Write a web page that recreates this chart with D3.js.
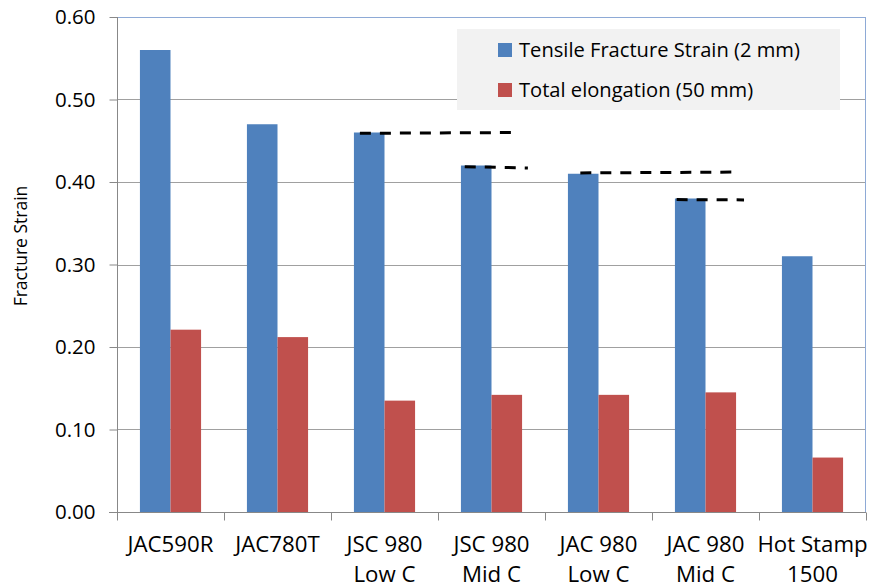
<!DOCTYPE html>
<html><head><meta charset="utf-8">
<script src="https://cdn.jsdelivr.net/npm/d3@7"></script>
<style>body{margin:0;background:#fff}svg{display:block}text{font-family:"Open Sans",Lato,sans-serif;fill:#000}</style>
</head><body><svg id="c" width="869" height="588"></svg>
<script>
const categories = [["JAC590R"],["JAC780T"],["JSC 980","Low C"],["JSC 980","Mid C"],["JAC 980","Low C"],["JAC 980","Mid C"],["Hot Stamp","1500"]];
const seriesNames = ["Tensile Fracture Strain (2 mm)","Total elongation (50 mm)"];
const tensile = [0.56,0.47,0.46,0.42,0.41,0.38,0.31];
const elongation = [0.221,0.212,0.135,0.142,0.142,0.145,0.066];
const yTicks = [0,0.1,0.2,0.3,0.4,0.5,0.6];
// annotation dashed lines: [start position (category units), end position, start value, end value]
const dashLines = [[2.27,3.73,0.459,0.460],[3.25,3.84,0.4186,0.417],[4.33,5.78,0.411,0.412],[5.23,5.86,0.3787,0.3783]];
const colors = ["#4f81bd","#c0504d"];

const W=869,H=588,m={l:117,t:17,r:3,b:76};
const svg=d3.select("#c");
const keys=categories.map((c,i)=>i);
const x=d3.scaleBand().domain(keys).range([m.l,W-m.r]).padding(0);
const bw=x.bandwidth(), barW=bw/3.5, gap=1.5*barW;
const x1=d3.scaleBand().domain([0,1]).range([gap/2,bw-gap/2]).padding(0);
const y=d3.scaleLinear().domain([0,0.6]).range([H-m.b,m.t]);
const xc=d3.scaleLinear().domain([0,categories.length]).range([m.l,W-m.r]);

function fit(sel,target){ // scale font so text width matches target width
  const n=sel.node(); const fs=parseFloat(sel.style("font-size"));
  const w=n.getComputedTextLength(); if(w>0) sel.style("font-size",(fs*target/w).toFixed(2)+"px");
  return parseFloat(sel.style("font-size"));
}

// gridlines
svg.append("g").selectAll("line").data(yTicks.filter(d=>d>0)).join("line")
 .attr("x1",m.l).attr("x2",W-m.r).attr("y1",d=>Math.round(y(d))+0.5).attr("y2",d=>Math.round(y(d))+0.5)
 .attr("stroke",d=>d===0.6?"#8eaad6":"#a0a0a0").attr("stroke-width",1);
svg.append("line").attr("x1",W-m.r-0.5).attr("x2",W-m.r-0.5).attr("y1",m.t).attr("y2",H-m.b).attr("stroke","#8eaad6");

// bars
const data=[tensile,elongation];
const g=svg.append("g");
keys.forEach(i=>{
  data.forEach((s,j)=>{
    g.append("rect").attr("x",x(i)+x1(j)).attr("width",x1.bandwidth())
     .attr("y",y(s[i])).attr("height",y(0)-y(s[i])).attr("fill",colors[j]);
  });
});

// axes
const ya=d3.axisLeft(y).tickValues(yTicks).tickFormat(d3.format(".2f")).tickSize(8).tickPadding(14);
const yg=svg.append("g").attr("transform",`translate(${m.l+0.5},0)`).call(ya);
yg.select(".domain").attr("stroke","#888").attr("d",`M0,${m.t}V${H-m.b}`);
yg.selectAll(".tick line").attr("stroke","#888");
yg.selectAll(".tick text").style("font-size","20.5px").style("font-family","Open Sans").attr("fill","#000");

const xa=d3.axisBottom(xc).tickValues(d3.range(categories.length+1)).tickFormat("").tickSize(8);
const xg=svg.append("g").attr("transform",`translate(0,${H-m.b+0.5})`).call(xa);
xg.select(".domain").attr("stroke","#888").attr("d",`M${m.l-8},0H${W-m.r}`);
xg.selectAll(".tick line").attr("stroke","#888");

// category labels
const cl=svg.append("g").style("font-size","21px");
const labs=cl.selectAll("text").data(keys).join("text")
 .attr("text-anchor","middle")
 .attr("transform",i=>`translate(${x(i)+bw/2},552)`)
 .each(function(i){
   const t=d3.select(this);
   categories[i].forEach((line,k)=>t.append("tspan").attr("x",0).attr("y",k*30).text(line));
 });
{ const t0=d3.select(labs.nodes()[0]); const fs=fit(t0,86); labs.style("font-size",fs+"px"); }

// y title
svg.append("text").attr("transform","translate(27,246) rotate(-90)").attr("text-anchor","middle")
 .style("font-size","17.5px").text("Fracture Strain");

// dashed annotation lines
svg.append("g").selectAll("line").data(dashLines).join("line")
 .attr("x1",d=>xc(d[0])).attr("x2",d=>xc(d[1])).attr("y1",d=>y(d[2])).attr("y2",d=>y(d[3]))
 .attr("stroke","#000").attr("stroke-width",3).attr("stroke-dasharray","11,9");

// legend
const lg=svg.append("g");
lg.append("rect").attr("x",457).attr("y",29).attr("width",383).attr("height",81).attr("fill","#f2f2f2");
const lt=[];
seriesNames.forEach((n,j)=>{
  lg.append("rect").attr("x",498).attr("y",43+j*40).attr("width",14).attr("height",14).attr("fill",colors[j]);
  lt.push(lg.append("text").attr("x",519).attr("y",50+j*40).attr("dy","0.36em").style("font-size","19px").text(n));
});
{ const fs=fit(lt[0],281); lt[1].style("font-size",fs+"px"); }
</script></body></html>
